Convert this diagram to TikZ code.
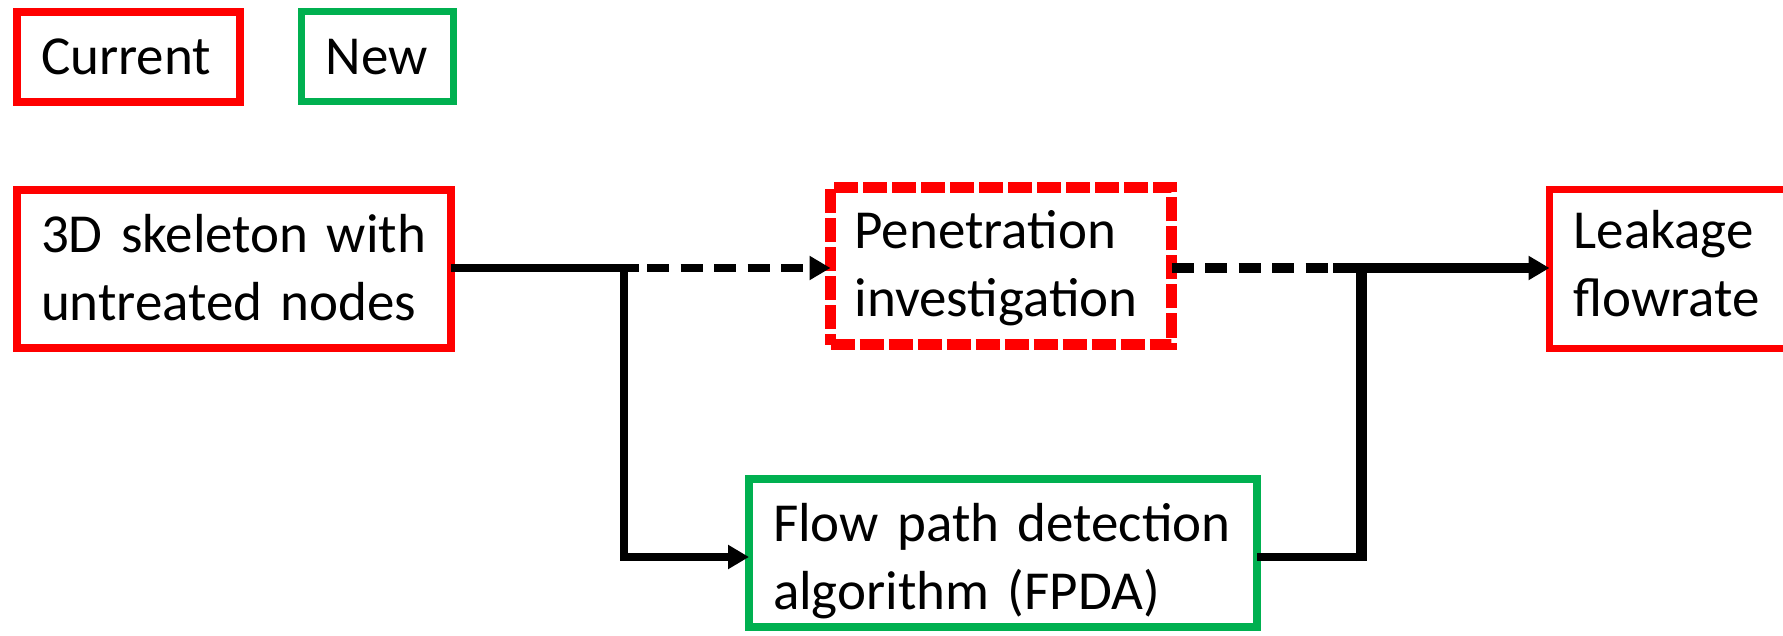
\documentclass[tikz,border=0pt]{standalone}
\usepackage{fontspec}
\setmainfont{Carlito}
\usetikzlibrary{arrows.meta}
\definecolor{cred}{RGB}{255,0,0}
\definecolor{cgreen}{RGB}{0,176,80}
\begin{document}
\begin{tikzpicture}[x=1pt,y=-1pt,
  every node/.style={font=\fontsize{55}{68}\selectfont},
  box/.style={draw, rectangle, inner xsep=24pt, inner ysep=0pt, outer sep=0pt, align=left, text height=40pt},
  curbox/.style={box, draw=cred, line width=8pt},
  newbox/.style={box, draw=cgreen, line width=8pt},
  penbox/.style={box, draw=cred, line width=11pt, dash pattern=on 24pt off 5pt},
  conn/.style={line width=8pt, line join=miter},
  connb/.style={line width=10pt},
  tip/.style={-{Triangle[length=21pt,width=23pt]}},
  dsh/.style={dash pattern=on 22pt off 11.5pt}
]
\useasboundingbox (0,0) rectangle (1783,636);
\fill[white] (0,0) rectangle (1783,636);
\clip (0,0) rectangle (1783,636);

% legend
\node[curbox, minimum width=223pt, minimum height=90pt, text width=175pt, text depth=4pt] (cur) at (128.5,57) {Current};
\node[newbox, line width=7pt, minimum width=152pt, minimum height=90pt, text width=104pt, text depth=4pt] (new) at (377.5,57) {New};

% boxes
\node[curbox, minimum width=434pt, minimum height=158pt, text width=386pt, text depth=72pt] (sk) at (234,269) {3D skeleton with\\untreated nodes};
\node[penbox, minimum width=341pt, minimum height=157pt, text width=293pt, text depth=74pt] (pen) at (1001,266) {Penetration\\investigation};
\node[curbox, line width=7pt, minimum width=300pt, minimum height=159pt, text width=252pt, text depth=80pt] (lk) at (1699.5,269) {Leakage\\flowrate};
\node[newbox, minimum width=508pt, minimum height=148pt, text width=460pt, text depth=64pt] (fpda) at (1003,553) {Flow path detection\\algorithm (FPDA)};

% junction coordinates
\coordinate (ja) at (624,268);
\coordinate (jb) at (639,268);
\coordinate (jc) at (624,557);
\coordinate (ra) at (1333,268);
\coordinate (rb) at (1361.5,268);
\coordinate (rc) at (1361.5,557);
\coordinate (rd) at (1361.5,561);

% left connectors
\draw[conn] (sk.east |- ja) -- (jb);
\draw[conn, dsh, dash phase=25.5pt, tip] (jb) -- (pen.west |- jb);
\draw[conn, tip] (ja) -- (jc) -- (fpda.west |- jc);

% right connectors
\draw[connb, dsh] (pen.east |- ra) -- (ra);
\draw[connb, tip] (ra) -- (lk.west |- ra);
\draw[line width=11pt] (rd) -- (rb);
\draw[conn] (fpda.east |- rc) -- (rc);
\end{tikzpicture}
\end{document}
